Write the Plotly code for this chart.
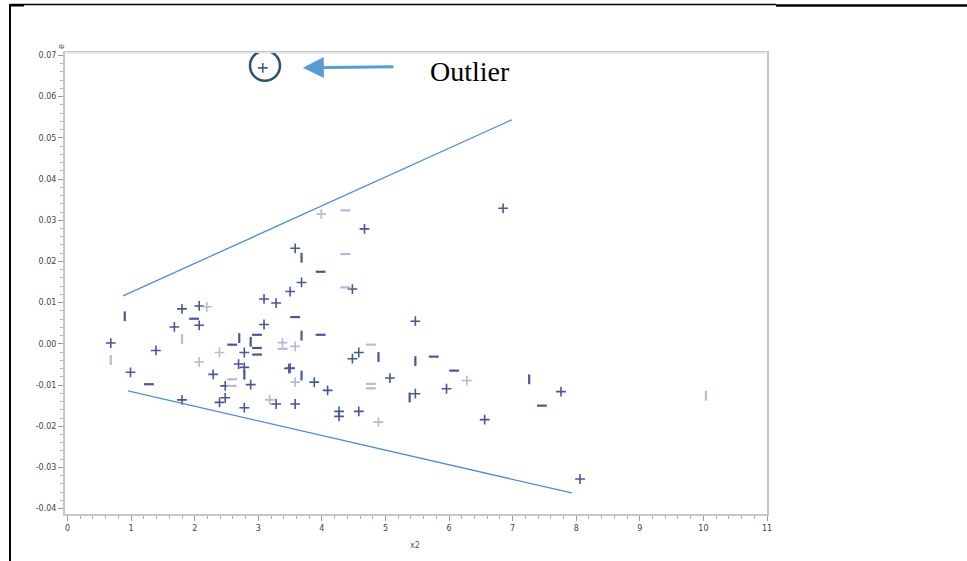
import plotly.graph_objects as go

# ---------------- data ----------------
plus_x = [3.07, 6.85, 4.67, 3.58, 3.50, 4.48, 3.09, 3.28, 1.80, 2.07, 2.07, 1.68, 3.09,
          0.68, 1.39, 2.78, 2.69, 2.78, 2.29, 0.99, 2.48, 2.88, 3.48, 1.80, 2.48, 2.39,
          2.78, 3.28, 3.58, 3.68, 5.47, 4.58, 4.48, 5.07, 5.96, 5.47, 7.76, 6.56, 8.06,
          3.88, 4.09, 4.27, 4.27, 4.58, 3.50]
plus_y = [0.0670, 0.0329, 0.0279, 0.0232, 0.0127, 0.0133, 0.0109, 0.0099, 0.0085, 0.0092,
          0.0045, 0.0041, 0.0047, 0.0002, -0.0016, -0.0021, -0.0049, -0.0057, -0.0074,
          -0.0069, -0.0102, -0.0099, -0.0060, -0.0136, -0.0131, -0.0142, -0.0155, -0.0146,
          -0.0146, 0.0149, 0.0055, -0.0021, -0.0036, -0.0083, -0.0109, -0.0121, -0.0116,
          -0.0184, -0.0328, -0.0093, -0.0113, -0.0164, -0.0176, -0.0164, -0.0059]

faint_plus_x = [3.99, 2.19, 2.39, 3.38, 3.58, 2.07, 3.58, 4.89, 3.18, 6.28]
faint_plus_y = [0.0315, 0.0090, -0.0021, 0.0003, -0.0006, -0.0044, -0.0093, -0.0190,
                -0.0136, -0.0089]

dash_x = [3.98, 3.58, 1.99, 2.59, 2.98, 2.98, 2.98, 1.28, 3.98, 5.76, 6.08, 7.46]
dash_y = [0.0175, 0.0065, 0.0061, -0.0002, 0.0022, -0.0010, -0.0026, -0.0098, 0.0022,
          -0.0031, -0.0065, -0.0150]

faint_dash_x = [4.37, 4.37, 4.37, 3.38, 4.77, 2.59, 2.58, 4.77, 4.77]
faint_dash_y = [0.0324, 0.0218, 0.0137, -0.0012, -0.0002, -0.0086, -0.0102, -0.0097, -0.0108]

bar_x = [0.90, 3.68, 3.68, 2.70, 2.88, 5.47, 3.68, 5.38, 7.26, 2.78, 4.89]
bar_y = [0.0067, 0.0209, 0.0020, 0.0014, 0.0005, -0.0042, -0.0077, -0.0130, -0.0086,
         -0.0075, -0.0032]

faint_bar_x = [0.68, 1.80, 10.04]
faint_bar_y = [-0.0039, 0.0012, -0.0126]

# hand-drawn guide lines (data units)
upper_line_x = [0.873, 6.99]
upper_line_y = [0.01165, 0.0544]
lower_line_x = [0.95, 7.93]
lower_line_y = [-0.0114, -0.0362]

x_ticks = list(range(0, 12))
y_ticks = [0.07, 0.06, 0.05, 0.04, 0.03, 0.02, 0.01, 0.00, -0.01, -0.02, -0.03, -0.04]
y_tick_labels = ["0.07", "0.06", "0.05", "0.04", "0.03", "0.02", "0.01", "0.00",
                 "-0.01", "-0.02", "-0.03", "-0.04"]

DARK = "#475896"
FAINT = "#b3bbd6"
GUIDE = "#4a8fd6"

fig = go.Figure()

def add_markers(xs, ys, symbol, color, size, width):
    fig.add_trace(go.Scatter(
        x=xs, y=ys, mode="markers", showlegend=False, hoverinfo="x+y",
        marker=dict(symbol=symbol, size=size, color=color,
                    line=dict(color=color, width=width))))

add_markers(plus_x, plus_y, "cross-thin", DARK, 7, 1.6)
add_markers(faint_plus_x, faint_plus_y, "cross-thin", FAINT, 7, 1.6)
add_markers(dash_x, dash_y, "line-ew", DARK, 7, 2.2)
add_markers(faint_dash_x, faint_dash_y, "line-ew", FAINT, 7, 2.2)
add_markers(bar_x, bar_y, "line-ns", DARK, 7, 2.2)
add_markers(faint_bar_x, faint_bar_y, "line-ns", FAINT, 7, 2.2)

for lx, ly in [(upper_line_x, upper_line_y), (lower_line_x, lower_line_y)]:
    fig.add_trace(go.Scatter(x=lx, y=ly, mode="lines", showlegend=False,
                             line=dict(color=GUIDE, width=1.3), hoverinfo="skip"))

L, R, T, B = 65, 200, 53, 47
W, H = 967, 561
PW, PH = W - L - R, H - T - B

def px(xpix):
    return (xpix - L) / PW

def py(ypix):
    return (H - B - ypix) / PH

shapes = [
    # document frame lines
    dict(type="line", xref="paper", yref="paper", x0=px(10), x1=px(776), y0=py(4.5), y1=py(4.5),
         line=dict(color="black", width=1.3)),
    dict(type="line", xref="paper", yref="paper", x0=px(776), x1=px(967), y0=py(5.5), y1=py(5.5),
         line=dict(color="black", width=2.5)),
    dict(type="line", xref="paper", yref="paper", x0=px(10), x1=px(10), y0=py(4), y1=py(561),
         line=dict(color="black", width=2)),
    dict(type="line", xref="paper", yref="paper", x0=px(10), x1=px(24), y0=py(5.5), y1=py(5.5),
         line=dict(color="black", width=2)),
    # light top border of plot
    dict(type="line", xref="paper", yref="paper", x0=0, x1=1, y0=1, y1=1,
         line=dict(color="#ececec", width=1.5)),
    # outlier circle
    dict(type="circle", xref="x", yref="y", xsizemode="pixel", ysizemode="pixel",
         xanchor=3.105, yanchor=0.0675, x0=-15, x1=15, y0=-15, y1=15,
         line=dict(color="#2f5273", width=2.5)),
]

annotations = [
    dict(x=3.70, y=0.0670, xref="x", yref="y", ax=92, ay=-1, axref="pixel", ayref="pixel",
         showarrow=True, arrowhead=2, arrowsize=1.4, arrowwidth=3, arrowcolor="#5b9bd5",
         text="", standoff=0),
    dict(x=5.668, y=0.0661, xref="x", yref="y", xanchor="left", yanchor="middle",
         text="Outlier", showarrow=False,
         font=dict(family="Liberation Serif, Times New Roman, serif", size=28, color="black")),
    dict(x=px(55), y=py(42), xref="paper", yref="paper", text="e", showarrow=False,
         textangle=-90, font=dict(family="DejaVu Sans, Arial", size=8, color="#555555")),
    dict(x=px(415), y=py(552), xref="paper", yref="paper", text="x2", showarrow=False,
         font=dict(family="DejaVu Sans, Arial", size=8, color="#555555")),
]

axis_common = dict(showgrid=False, zeroline=False, showline=True, linecolor="#c4c8c8",
                   linewidth=2, mirror=True, ticks="outside", ticklen=5, tickwidth=1,
                   tickcolor="#9a9a9a",
                   tickfont=dict(family="DejaVu Sans, Arial", size=8, color="#444444"))

fig.update_layout(
    width=W, height=H,
    margin=dict(l=L, r=R, t=T, b=B, pad=0),
    paper_bgcolor="white", plot_bgcolor="white",
    xaxis=dict(range=[-0.04, 11.0], tickvals=x_ticks, ticktext=[str(v) for v in x_ticks],
               minor=dict(dtick=0.2, ticks="outside", ticklen=3, tickcolor="#b0b0b0"),
               **axis_common),
    yaxis=dict(range=[-0.0413, 0.0706], tickvals=y_ticks, ticktext=y_tick_labels,
               minor=dict(dtick=0.002, ticks="outside", ticklen=3, tickcolor="#b0b0b0"),
               **axis_common),
    shapes=shapes,
    annotations=annotations,
)

fig.write_html("out.html", config={"displayModeBar": False},
               post_script="document.body.style.margin='0px';document.body.style.overflow='hidden';")
